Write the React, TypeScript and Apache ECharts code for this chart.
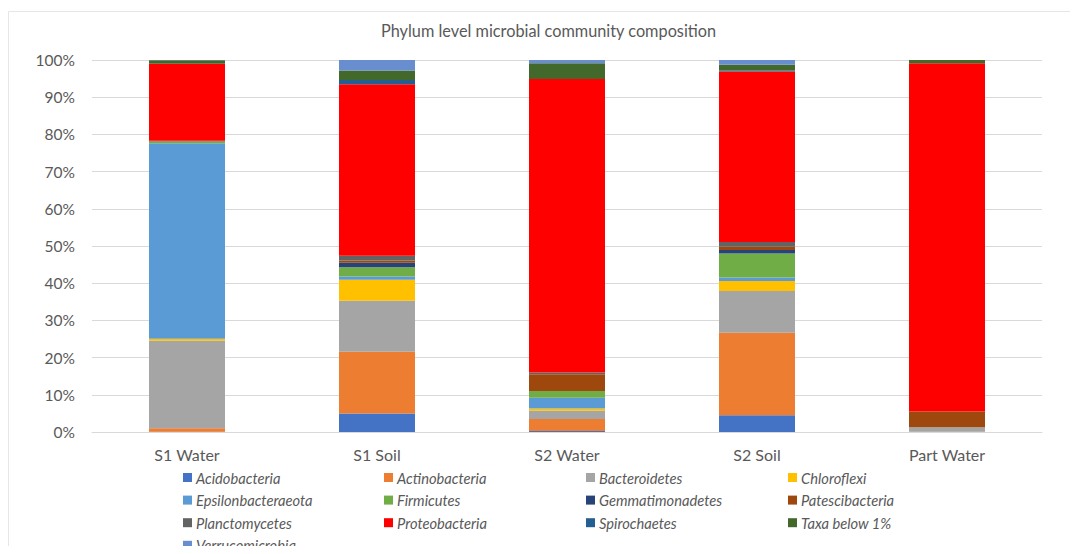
import React, { useEffect, useRef } from "react";
import * as echarts from "echarts";

// Sample sites on the x axis
const categories = ["S1 Water", "S1 Soil", "S2 Water", "S2 Soil", "Part Water"];

// Relative abundance (%) of each phylum per site, stacked bottom to top
const acidobacteria = [0.1, 5.0, 0.3, 4.5, 0];
const actinobacteria = [0.9, 16.6, 3.2, 22.2, 0.1];
const bacteroidetes = [23.5, 13.7, 2.2, 11.2, 1.2];
const chloroflexi = [0.6, 5.6, 0.6, 2.7, 0];
const epsilonbacteraeota = [52.5, 0.9, 2.9, 0.9, 0];
const firmicutes = [0.5, 2.5, 1.8, 6.5, 0];
const gemmatimonadetes = [0, 1.2, 0, 0.9, 0];
const patescibacteria = [0.1, 0.6, 4.5, 0.9, 4.2];
const planctomycetes = [0.1, 1.3, 0.5, 1.3, 0];
const proteobacteria = [20.7, 46.1, 78.9, 45.8, 93.6];
const spirochaetes = [0, 1.1, 0, 0.3, 0];
const taxaBelow1 = [0.9, 2.6, 4.2, 1.5, 0.9];
const verrucomicrobia = [0.1, 2.8, 0.9, 1.3, 0];

const yTicks = { min: 0, max: 100, interval: 10 };

const phyla: { name: string; data: number[]; color: string }[] = [
  { name: "Acidobacteria", data: acidobacteria, color: "#4472C4" },
  { name: "Actinobacteria", data: actinobacteria, color: "#ED7D31" },
  { name: "Bacteroidetes", data: bacteroidetes, color: "#A5A5A5" },
  { name: "Chloroflexi", data: chloroflexi, color: "#FFC000" },
  { name: "Epsilonbacteraeota", data: epsilonbacteraeota, color: "#5B9BD5" },
  { name: "Firmicutes", data: firmicutes, color: "#70AD47" },
  { name: "Gemmatimonadetes", data: gemmatimonadetes, color: "#264478" },
  { name: "Patescibacteria", data: patescibacteria, color: "#9E480E" },
  { name: "Planctomycetes", data: planctomycetes, color: "#636363" },
  { name: "Proteobacteria", data: proteobacteria, color: "#FF0000" },
  { name: "Spirochaetes", data: spirochaetes, color: "#255E91" },
  { name: "Taxa below 1%", data: taxaBelow1, color: "#43682B" },
  { name: "Verrucomicrobia", data: verrucomicrobia, color: "#698ED0" },
];

const FONT = "Lato, 'Open Sans', sans-serif";
const TEXT = "#595959";

export default function App() {
  const ref = useRef<HTMLDivElement>(null);

  useEffect(() => {
    if (!ref.current) return;
    const chart = echarts.init(ref.current, null, { renderer: "svg" });

    // Legend laid out in four fixed columns, filled row by row
    const columns = [0, 1, 2, 3].map((c) =>
      phyla.filter((_, i) => i % 4 === c).map((p) => p.name)
    );
    const columnX = [183, 384, 586, 788];
    const legends = columns.map((names, c) => ({
      data: names,
      orient: "vertical",
      left: columnX[c],
      top: 470,
      itemWidth: 9,
      itemHeight: 9,
      itemGap: 7.6,
      icon: "rect",
      textStyle: {
        color: TEXT,
        fontFamily: FONT,
        fontSize: 14.7,
        fontStyle: "italic",
        lineHeight: 15,
        padding: [0, 0, 0, -1],
      },
      padding: 0,
      selectedMode: false,
    }));

    chart.setOption({
      animation: false,
      backgroundColor: "#ffffff",
      title: {
        text: "Phylum level microbial community composition",
        left: 381,
        top: 22,
        padding: 0,
        textStyle: {
          color: TEXT,
          fontFamily: FONT,
          fontSize: 16.3,
          fontWeight: "normal",
        },
      },
      graphic: [
        {
          type: "rect",
          shape: { x: 8.5, y: 11.5, width: 1200, height: 700 },
          style: { fill: "none", stroke: "#e6e6e6", lineWidth: 1 },
          silent: true,
        },
      ],
      legend: legends,
      grid: { left: 92, right: 36, top: 60, bottom: 122 },
      xAxis: {
        type: "category",
        data: categories,
        axisTick: { show: false },
        axisLine: { lineStyle: { color: "#d9d9d9" } },
        axisLabel: {
          color: TEXT,
          fontFamily: FONT,
          fontSize: 16,
          margin: 14,
        },
      },
      yAxis: {
        type: "value",
        min: yTicks.min,
        max: yTicks.max,
        interval: yTicks.interval,
        axisLabel: {
          color: TEXT,
          fontFamily: FONT,
          fontSize: 15.5,
          margin: 17,
          formatter: "{value}%",
        },
        splitLine: { lineStyle: { color: "#d9d9d9" } },
        axisLine: { show: false },
        axisTick: { show: false },
      },
      series: phyla.map((p) => ({
        name: p.name,
        type: "bar",
        stack: "total",
        barCategoryGap: "60%",
        data: p.data,
        itemStyle: { color: p.color },
        emphasis: { disabled: true },
      })),
    });

    return () => chart.dispose();
  }, []);

  return <div ref={ref} style={{ width: 1078, height: 554, margin: -8 }} />;
}
